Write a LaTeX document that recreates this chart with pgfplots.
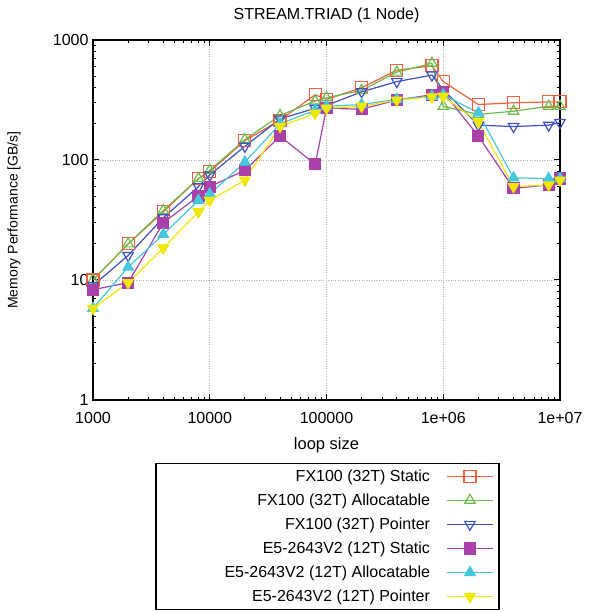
\documentclass[border=0pt]{standalone}
\usepackage{pgfplots}
\pgfplotsset{compat=1.18}
\usepackage{pgfplotstable}
\usepackage{fontspec}
\setmainfont{Liberation Sans}
\definecolor{cred}{RGB}{245,95,60}
\definecolor{cgreen}{RGB}{105,190,75}
\definecolor{cblue}{RGB}{60,80,200}
\definecolor{cpurple}{RGB}{170,65,170}
\definecolor{ccyan}{RGB}{70,200,220}
\definecolor{cyellow}{RGB}{240,232,0}
\pgfplotstableread{
x red green blue purple cyan yellow
1000 10 10 9 8.3 5.8 5.8
2000 20 20 16 9.5 12.8 9.5
4000 37 38 33 30 24 18.5
8000 70 70 60 50 46 37
10000 80 82 75 60 52 46
20000 145 148 130 82 96 68
40000 215 235 220 158 200 190
80000 350 310 270 92 260 245
100000 320 330 285 270 280 270
200000 400 380 370 265 290 280
400000 560 540 450 316 320 315
800000 610 640 510 350 340 335
1000000 450 280 385 370 350 340
2000000 290 240 195 158 247 207
4000000 300 255 190 58 71 60
8000000 305 280 195 62 70 62
10000000 305 280 205 70 70 68
}\datatable
\begin{document}
\begin{tikzpicture}
\path[use as bounding box] (0,0) rectangle (588pt,612pt);
\begin{axis}[
  at={(93pt,212pt)}, anchor=south west,
  scale only axis, width=467pt, height=360pt,
  xmode=log, ymode=log,
  xmin=1000, xmax=10000000, ymin=1, ymax=1000,
  font=\fontsize{16}{18}\selectfont,
  /pgf/number format/assume math mode=true,
  xtick={1000,10000,100000,1000000,10000000},
  xticklabels={1000,10000,100000,1e+06,1e+07},
  ytick={1,10,100,1000},
  yticklabels={1,10,100,1000},
  tick align=inside,
  major tick length=6pt, minor tick length=3pt,
  tick style={black, line width=1pt},
  axis line style={line width=1.5pt},
  xticklabel style={yshift=-9pt},
  yticklabel style={xshift=-1pt},
  grid=major,
  major grid style={gray!60, dotted, line width=0.8pt},
  title={STREAM.TRIAD (1 Node)},
  title style={at={(0.5,1)}, anchor=south, yshift=8pt, font=\fontsize{16}{18}\selectfont},
  xlabel={loop size},
  xlabel style={font=\fontsize{16.5}{18}\selectfont, at={(axis description cs:0.5,-0.125)}, anchor=center},
  ylabel={Memory Performance [GB/s]},
  ylabel style={at={(axis description cs:-0.169,0.5)}, anchor=center, font=\fontsize{14}{16}\selectfont},
  legend style={at={(0.502,-0.175)}, anchor=north, draw=black, line width=1.3pt,
    font=\fontsize{16}{18}\selectfont, row sep=7pt, column sep=14pt, inner xsep=5pt, inner ysep=4pt},
  legend plot pos=right,
  legend cell align=right,
  legend image code/.code={\draw[line width=1.2pt, mark repeat=2,mark phase=2] plot coordinates {(0cm,0cm)(0.82cm,0cm)(1.64cm,0cm)};},
  every axis plot/.append style={line width=1.2pt, mark size=6pt, mark options={solid}},
]
\addplot[color=cred, mark=square] table[x=x,y=red] {\datatable};
\addlegendentry{\makebox[267pt][r]{FX100 (32T) Static}}
\addplot[color=cgreen, mark=triangle] table[x=x,y=green] {\datatable};
\addlegendentry{FX100 (32T) Allocatable}
\addplot[color=cblue, mark=triangle, mark options={rotate=180}] table[x=x,y=blue] {\datatable};
\addlegendentry{FX100 (32T) Pointer}
\addplot[color=cpurple, mark=square*, mark size=5.5pt] table[x=x,y=purple] {\datatable};
\addlegendentry{E5-2643V2 (12T) Static}
\addplot[color=ccyan, mark=triangle*] table[x=x,y=cyan] {\datatable};
\addlegendentry{E5-2643V2 (12T) Allocatable}
\addplot[color=cyellow, mark=triangle*, mark options={rotate=180}] table[x=x,y=yellow] {\datatable};
\addlegendentry{E5-2643V2 (12T) Pointer}
\end{axis}
\end{tikzpicture}
\end{document}
